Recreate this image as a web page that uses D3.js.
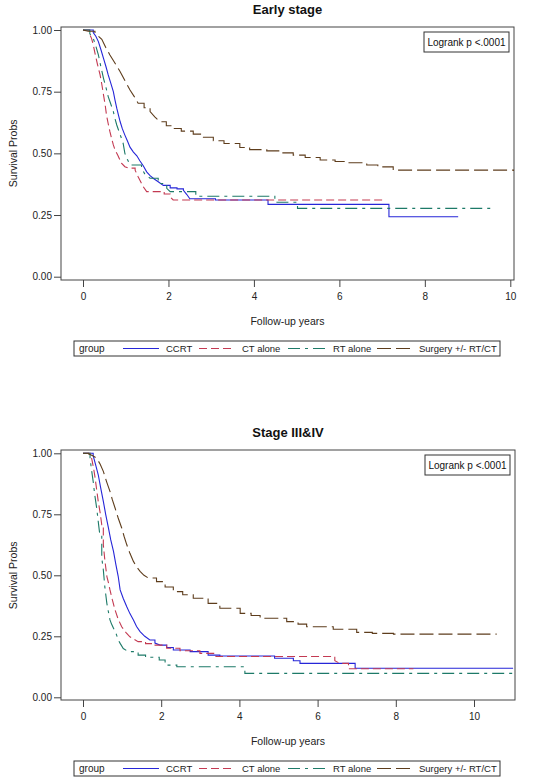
<!DOCTYPE html>
<html><head><meta charset="utf-8">
<script src="https://cdn.jsdelivr.net/npm/d3@7"></script>
<style>body{margin:0;background:#fff;}svg{display:block;font-family:"Liberation Sans",Arial,sans-serif;}</style>
</head><body>
<script>
// ---- data ----
const groups = ["CCRT", "CT alone", "RT alone", "Surgery +/- RT/CT"];
const xTicks = [0, 2, 4, 6, 8, 10];
const yTicks = [0, 0.25, 0.5, 0.75, 1.0];
const panelTitles = ["Early stage", "Stage III&IV"];
const pText = "Logrank p <.0001";

// Early stage
const earlyCCRT_t = [0,0.24,0.3,0.36,0.42,0.48,0.54,0.59,0.65,0.71,0.75,0.79,0.83,0.87,0.92,0.98,1.04,1.1,1.18,1.26,1.33,1.41,1.49,1.57,1.65,1.76,1.88,2.04,2.2,2.35,2.43,2.5,3.1,4.33,7.16,8.78];
const earlyCCRT_s = [1,0.99,0.975,0.953,0.92,0.885,0.85,0.818,0.785,0.75,0.715,0.683,0.655,0.628,0.6,0.574,0.55,0.525,0.505,0.49,0.47,0.45,0.425,0.41,0.398,0.385,0.37,0.36,0.356,0.35,0.333,0.316,0.311,0.293,0.243,0.243];
const earlyCT_t = [0,0.15,0.2,0.24,0.28,0.34,0.4,0.44,0.48,0.52,0.55,0.59,0.63,0.67,0.71,0.75,0.82,0.9,0.98,1.06,1.22,1.29,1.35,1.41,1.49,1.72,1.9,2.04,2.11,7.02];
const earlyCT_s = [1,0.985,0.966,0.94,0.906,0.86,0.818,0.78,0.737,0.695,0.655,0.62,0.588,0.56,0.534,0.514,0.49,0.46,0.446,0.44,0.432,0.405,0.385,0.365,0.345,0.345,0.335,0.324,0.311,0.311];
const earlyRT_t = [0,0.16,0.24,0.3,0.36,0.42,0.48,0.54,0.59,0.65,0.71,0.75,0.79,0.84,0.9,0.94,0.98,1.04,1.1,1.37,1.45,1.57,1.76,1.96,2.04,2.64,4.49,5.02,9.56];
const earlyRT_s = [1,0.985,0.966,0.935,0.899,0.85,0.804,0.765,0.73,0.7,0.669,0.64,0.615,0.59,0.561,0.54,0.5,0.475,0.453,0.44,0.415,0.399,0.378,0.358,0.345,0.326,0.302,0.277,0.277];
const earlySurg_t = [0,0.12,0.28,0.36,0.44,0.53,0.63,0.75,0.87,0.98,1.1,1.2,1.29,1.43,1.57,1.68,1.8,1.95,2.11,2.3,2.58,2.8,3.05,3.3,3.67,3.9,4.3,4.6,4.92,5.2,5.55,5.9,6.17,6.64,6.9,7.26,10.08];
const earlySurg_s = [1,0.995,0.985,0.975,0.962,0.93,0.899,0.865,0.831,0.795,0.757,0.73,0.703,0.685,0.669,0.648,0.628,0.612,0.601,0.59,0.578,0.565,0.551,0.54,0.524,0.515,0.51,0.502,0.493,0.483,0.473,0.467,0.462,0.453,0.445,0.432,0.428];

// Stage III & IV
const lateCCRT_t = [0,0.26,0.32,0.39,0.45,0.52,0.58,0.65,0.71,0.78,0.84,0.9,0.95,1.03,1.12,1.2,1.29,1.37,1.46,1.58,1.71,1.84,1.97,2.14,2.31,2.74,3.2,3.5,4.9,5.38,5.55,6.96,11.0];
const lateCCRT_s = [1,0.99,0.955,0.912,0.86,0.803,0.75,0.694,0.645,0.598,0.545,0.496,0.44,0.405,0.371,0.343,0.317,0.29,0.269,0.25,0.235,0.222,0.214,0.204,0.194,0.187,0.173,0.169,0.16,0.15,0.139,0.119,0.119];
const lateCT_t = [0,0.18,0.22,0.27,0.31,0.35,0.39,0.44,0.48,0.52,0.56,0.61,0.65,0.69,0.75,0.82,0.9,0.99,1.1,1.2,1.3,1.41,1.6,1.8,2.14,2.48,2.99,3.4,6.44,6.57,6.79,8.45];
const lateCT_s = [1,0.995,0.98,0.94,0.899,0.85,0.803,0.755,0.707,0.625,0.56,0.496,0.47,0.44,0.4,0.358,0.32,0.289,0.265,0.248,0.238,0.228,0.22,0.214,0.201,0.191,0.18,0.167,0.15,0.139,0.117,0.117];
const lateRT_t = [0,0.18,0.22,0.26,0.3,0.35,0.39,0.43,0.48,0.52,0.56,0.61,0.65,0.69,0.73,0.78,0.82,0.86,0.9,0.95,1.03,1.16,1.41,1.6,1.95,2.1,2.4,4.14,11.05];
const lateRT_s = [1,0.98,0.93,0.885,0.83,0.776,0.72,0.666,0.571,0.522,0.45,0.385,0.35,0.317,0.3,0.283,0.27,0.255,0.235,0.221,0.2,0.187,0.173,0.164,0.153,0.132,0.125,0.098,0.098];
const lateSurg_t = [0,0.14,0.25,0.35,0.44,0.52,0.6,0.69,0.75,0.82,0.9,0.99,1.05,1.12,1.2,1.29,1.37,1.46,1.56,1.67,1.88,2.1,2.31,2.55,2.82,3.2,3.5,4.02,4.3,4.53,5.21,5.5,5.72,6.4,7.0,7.4,7.94,10.58];
const lateSurg_s = [1,0.998,0.99,0.98,0.955,0.926,0.885,0.844,0.81,0.776,0.735,0.694,0.66,0.625,0.59,0.557,0.535,0.516,0.5,0.489,0.474,0.452,0.433,0.42,0.406,0.385,0.365,0.344,0.335,0.324,0.31,0.3,0.289,0.279,0.266,0.262,0.259,0.259];

// ---- styles ----
const colors = ["#2626d8", "#c33a52", "#1d7a68", "#5e3d1c"];
const dashes = [null, "8,4", "12,5,3,5", "14,5"];

const panels = [
  {title: panelTitles[0], series: [[earlyCCRT_t,earlyCCRT_s],[earlyCT_t,earlyCT_s],[earlyRT_t,earlyRT_s],[earlySurg_t,earlySurg_s]],
   frame: {l:61, r:514, t:27, b:280}, x0:83, x10:510.3, y1:30, y0:276.7, titleY:14},
  {title: panelTitles[1], series: [[lateCCRT_t,lateCCRT_s],[lateCT_t,lateCT_s],[lateRT_t,lateRT_s],[lateSurg_t,lateSurg_s]],
   frame: {l:61, r:515, t:450, b:700}, x0:83, x10:474, y1:453.3, y0:697.3, titleY:437}
];

// Kaplan-Meier path: dense event runs are drawn as a fine staircase (rendered as a near-continuous descent),
// sparse events as clear steps
function kmPath(pts, x, y) {
  const path = d3.path();
  path.moveTo(x(pts[0][0]), y(pts[0][1]));
  for (let k = 1; k < pts.length; k++) {
    const [t0, s0] = pts[k - 1], [t1, s1] = pts[k];
    if (t1 - t0 < 0.13 && s0 - s1 < 0.08) {
      path.lineTo(x(t1), y(s1));
    } else {
      path.lineTo(x(t1), y(s0));
      path.lineTo(x(t1), y(s1));
    }
  }
  return path.toString();
}

const svg = d3.select("body").append("svg").attr("width", 550).attr("height", 783);

panels.forEach((p, pi) => {
  const f = p.frame;
  const x = d3.scaleLinear().domain([0, 10]).range([p.x0, p.x10]);
  const y = d3.scaleLinear().domain([0, 1]).range([p.y0, p.y1]);
  const g = svg.append("g");
  const cx = (f.l + f.r) / 2;

  g.append("text").attr("x", cx).attr("y", p.titleY).attr("text-anchor", "middle")
    .attr("font-size", 13).attr("font-weight", "bold").attr("fill", "#111").text(p.title);

  const cid = "clip" + pi;
  svg.append("clipPath").attr("id", cid).append("rect")
    .attr("x", f.l).attr("y", f.t).attr("width", f.r - f.l).attr("height", f.b - f.t);

  const yAxis = d3.axisLeft(y).tickValues(yTicks).tickFormat(d3.format(".2f")).tickSizeOuter(0).tickSize(7).tickPadding(2);
  const ya = g.append("g").attr("transform", `translate(${f.l},0)`).call(yAxis);
  ya.select(".domain").remove();
  const xAxis = d3.axisBottom(x).tickValues(xTicks).tickFormat(d3.format("d")).tickSizeOuter(0).tickSize(7).tickPadding(6);
  const xa = g.append("g").attr("transform", `translate(0,${f.b})`).call(xAxis);
  xa.select(".domain").remove();
  [ya, xa].forEach(a => {
    a.selectAll("text").attr("font-size", 10).attr("fill", "#222").attr("font-family", "Liberation Sans, Arial, sans-serif");
    a.selectAll("line").attr("stroke", "#444");
  });

  g.append("rect").attr("x", f.l).attr("y", f.t).attr("width", f.r - f.l).attr("height", f.b - f.t)
    .attr("fill", "none").attr("stroke", "#444").attr("stroke-width", 1);

  const cg = g.append("g").attr("clip-path", `url(#${cid})`);
  p.series.forEach((s, i) => {
    const pts = s[0].map((t, k) => [t, s[1][k]]);
    cg.append("path").attr("d", kmPath(pts, x, y)).attr("fill", "none")
      .attr("stroke", colors[i]).attr("stroke-width", 1.1)
      .attr("stroke-dasharray", dashes[i]);
  });

  g.append("text").attr("transform", `translate(17,${y(0.5)}) rotate(-90)`).attr("text-anchor", "middle")
    .attr("font-size", 10.5).attr("fill", "#222").text("Survival Probs");
  g.append("text").attr("x", cx).attr("y", f.b + 45).attr("text-anchor", "middle")
    .attr("font-size", 10.5).attr("fill", "#222").text("Follow-up years");

  const bw = 85, bh = 20, bx = f.r - 5 - bw, by = f.t + 5;
  g.append("rect").attr("x", bx).attr("y", by).attr("width", bw).attr("height", bh)
    .attr("fill", "#fff").attr("stroke", "#333");
  g.append("text").attr("x", bx + bw / 2).attr("y", by + 14).attr("text-anchor", "middle")
    .attr("font-size", 10).attr("fill", "#111").text(pText);

  const ly = f.b + 61;
  g.append("rect").attr("x", 74).attr("y", ly).attr("width", 426).attr("height", 15)
    .attr("fill", "#fff").attr("stroke", "#333");
  g.append("text").attr("x", 79).attr("y", ly + 11).attr("font-size", 10).attr("fill", "#222").text("group");
  const legX = [[123, 159, 166], [199, 232, 242], [288, 325, 333], [377, 413, 419]];
  groups.forEach((name, i) => {
    g.append("line").attr("x1", legX[i][0]).attr("x2", legX[i][1]).attr("y1", ly + 7.5).attr("y2", ly + 7.5)
      .attr("stroke", colors[i]).attr("stroke-width", 1.1).attr("stroke-dasharray", dashes[i]);
    g.append("text").attr("x", legX[i][2]).attr("y", ly + 11).attr("font-size", 9.5).attr("fill", "#222").text(name);
  });
});
</script>
</body></html>
